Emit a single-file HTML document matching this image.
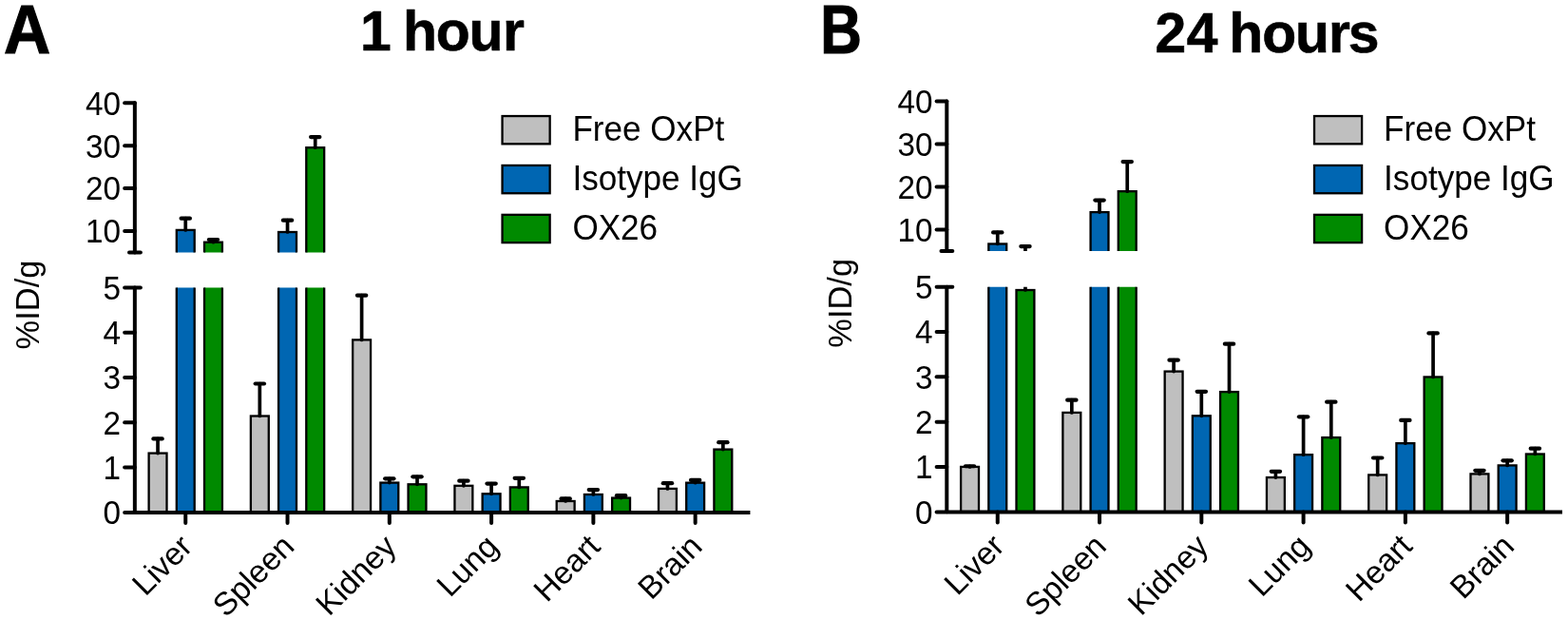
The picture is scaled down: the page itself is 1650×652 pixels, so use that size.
<!DOCTYPE html>
<html><head><meta charset="utf-8"><title>Biodistribution %ID/g</title>
<style>
html,body{margin:0;padding:0;background:#fff;width:1650px;height:652px;overflow:hidden}
svg{display:block}
text{font-family:"Liberation Sans",Arial,sans-serif;fill:#000}
</style></head><body>
<svg width="1650" height="652" viewBox="0 0 1650 652">
<rect width="1650" height="652" fill="#fff"/>
<defs><clipPath id="cua"><rect x="141.85" y="0" width="800" height="265.50"/></clipPath><clipPath id="cla"><rect x="141.85" y="302.60" width="800" height="236.00"/></clipPath></defs>
<g clip-path="url(#cua)"><rect x="185.80" y="241.91" width="18.9" height="43.59" fill="#0066b2" stroke="#000" stroke-width="2.3"/><line x1="195.25" y1="241.91" x2="195.25" y2="229.68" stroke="#000" stroke-width="3.7" stroke-linecap="round"/><line x1="190.60" y1="229.68" x2="199.90" y2="229.68" stroke="#000" stroke-width="4.2" stroke-linecap="round"/><rect x="215.00" y="254.71" width="18.9" height="30.79" fill="#008a00" stroke="#000" stroke-width="2.3"/><line x1="224.45" y1="254.71" x2="224.45" y2="252.02" stroke="#000" stroke-width="3.7" stroke-linecap="round"/><line x1="219.80" y1="252.02" x2="229.10" y2="252.02" stroke="#000" stroke-width="4.2" stroke-linecap="round"/><rect x="293.08" y="244.02" width="18.9" height="41.48" fill="#0066b2" stroke="#000" stroke-width="2.3"/><line x1="302.53" y1="244.02" x2="302.53" y2="231.70" stroke="#000" stroke-width="3.7" stroke-linecap="round"/><line x1="297.88" y1="231.70" x2="307.18" y2="231.70" stroke="#000" stroke-width="4.2" stroke-linecap="round"/><rect x="322.28" y="155.21" width="18.9" height="130.29" fill="#008a00" stroke="#000" stroke-width="2.3"/><line x1="331.73" y1="155.21" x2="331.73" y2="144.11" stroke="#000" stroke-width="3.7" stroke-linecap="round"/><line x1="327.08" y1="144.11" x2="336.38" y2="144.11" stroke="#000" stroke-width="4.2" stroke-linecap="round"/></g>
<g clip-path="url(#cla)"><rect x="156.60" y="476.58" width="18.9" height="62.02" fill="#bfbfbf" stroke="#000" stroke-width="2.3"/><line x1="166.05" y1="476.58" x2="166.05" y2="461.38" stroke="#000" stroke-width="3.7" stroke-linecap="round"/><line x1="161.40" y1="461.38" x2="170.70" y2="461.38" stroke="#000" stroke-width="4.2" stroke-linecap="round"/><rect x="185.80" y="54.80" width="18.9" height="483.80" fill="#0066b2" stroke="#000" stroke-width="2.3"/><line x1="195.25" y1="54.80" x2="195.25" y2="-73.58" stroke="#000" stroke-width="3.7" stroke-linecap="round"/><line x1="190.60" y1="-73.58" x2="199.90" y2="-73.58" stroke="#000" stroke-width="4.2" stroke-linecap="round"/><rect x="215.00" y="189.32" width="18.9" height="349.28" fill="#008a00" stroke="#000" stroke-width="2.3"/><line x1="224.45" y1="189.32" x2="224.45" y2="161.00" stroke="#000" stroke-width="3.7" stroke-linecap="round"/><line x1="219.80" y1="161.00" x2="229.10" y2="161.00" stroke="#000" stroke-width="4.2" stroke-linecap="round"/><rect x="263.88" y="437.50" width="18.9" height="101.10" fill="#bfbfbf" stroke="#000" stroke-width="2.3"/><line x1="273.33" y1="437.50" x2="273.33" y2="403.51" stroke="#000" stroke-width="3.7" stroke-linecap="round"/><line x1="268.68" y1="403.51" x2="277.98" y2="403.51" stroke="#000" stroke-width="4.2" stroke-linecap="round"/><rect x="293.08" y="76.98" width="18.9" height="461.62" fill="#0066b2" stroke="#000" stroke-width="2.3"/><line x1="302.53" y1="76.98" x2="302.53" y2="-52.34" stroke="#000" stroke-width="3.7" stroke-linecap="round"/><line x1="297.88" y1="-52.34" x2="307.18" y2="-52.34" stroke="#000" stroke-width="4.2" stroke-linecap="round"/><rect x="322.28" y="-855.69" width="18.9" height="1394.29" fill="#008a00" stroke="#000" stroke-width="2.3"/><line x1="331.73" y1="-855.69" x2="331.73" y2="-972.27" stroke="#000" stroke-width="3.7" stroke-linecap="round"/><line x1="327.08" y1="-972.27" x2="336.38" y2="-972.27" stroke="#000" stroke-width="4.2" stroke-linecap="round"/><rect x="371.16" y="357.40" width="18.9" height="181.20" fill="#bfbfbf" stroke="#000" stroke-width="2.3"/><line x1="380.61" y1="357.40" x2="380.61" y2="310.72" stroke="#000" stroke-width="3.7" stroke-linecap="round"/><line x1="375.96" y1="310.72" x2="385.26" y2="310.72" stroke="#000" stroke-width="4.2" stroke-linecap="round"/><rect x="400.36" y="507.59" width="18.9" height="31.01" fill="#0066b2" stroke="#000" stroke-width="2.3"/><line x1="409.81" y1="507.59" x2="409.81" y2="503.29" stroke="#000" stroke-width="3.7" stroke-linecap="round"/><line x1="405.16" y1="503.29" x2="414.46" y2="503.29" stroke="#000" stroke-width="4.2" stroke-linecap="round"/><rect x="429.56" y="509.29" width="18.9" height="29.31" fill="#008a00" stroke="#000" stroke-width="2.3"/><line x1="439.01" y1="509.29" x2="439.01" y2="501.31" stroke="#000" stroke-width="3.7" stroke-linecap="round"/><line x1="434.36" y1="501.31" x2="443.66" y2="501.31" stroke="#000" stroke-width="4.2" stroke-linecap="round"/><rect x="478.44" y="510.80" width="18.9" height="27.80" fill="#bfbfbf" stroke="#000" stroke-width="2.3"/><line x1="487.89" y1="510.80" x2="487.89" y2="505.70" stroke="#000" stroke-width="3.7" stroke-linecap="round"/><line x1="483.24" y1="505.70" x2="492.54" y2="505.70" stroke="#000" stroke-width="4.2" stroke-linecap="round"/><rect x="507.64" y="519.30" width="18.9" height="19.30" fill="#0066b2" stroke="#000" stroke-width="2.3"/><line x1="517.09" y1="519.30" x2="517.09" y2="508.58" stroke="#000" stroke-width="3.7" stroke-linecap="round"/><line x1="512.44" y1="508.58" x2="521.74" y2="508.58" stroke="#000" stroke-width="4.2" stroke-linecap="round"/><rect x="536.84" y="512.40" width="18.9" height="26.20" fill="#008a00" stroke="#000" stroke-width="2.3"/><line x1="546.29" y1="512.40" x2="546.29" y2="502.82" stroke="#000" stroke-width="3.7" stroke-linecap="round"/><line x1="541.64" y1="502.82" x2="550.94" y2="502.82" stroke="#000" stroke-width="4.2" stroke-linecap="round"/><rect x="585.72" y="526.99" width="18.9" height="11.61" fill="#bfbfbf" stroke="#000" stroke-width="2.3"/><line x1="595.17" y1="526.99" x2="595.17" y2="524.44" stroke="#000" stroke-width="3.7" stroke-linecap="round"/><line x1="590.52" y1="524.44" x2="599.82" y2="524.44" stroke="#000" stroke-width="4.2" stroke-linecap="round"/><rect x="614.92" y="520.00" width="18.9" height="18.60" fill="#0066b2" stroke="#000" stroke-width="2.3"/><line x1="624.37" y1="520.00" x2="624.37" y2="515.09" stroke="#000" stroke-width="3.7" stroke-linecap="round"/><line x1="619.72" y1="515.09" x2="629.02" y2="515.09" stroke="#000" stroke-width="4.2" stroke-linecap="round"/><rect x="644.12" y="523.59" width="18.9" height="15.01" fill="#008a00" stroke="#000" stroke-width="2.3"/><line x1="653.57" y1="523.59" x2="653.57" y2="521.18" stroke="#000" stroke-width="3.7" stroke-linecap="round"/><line x1="648.92" y1="521.18" x2="658.22" y2="521.18" stroke="#000" stroke-width="4.2" stroke-linecap="round"/><rect x="693.00" y="513.91" width="18.9" height="24.69" fill="#bfbfbf" stroke="#000" stroke-width="2.3"/><line x1="702.45" y1="513.91" x2="702.45" y2="508.20" stroke="#000" stroke-width="3.7" stroke-linecap="round"/><line x1="697.80" y1="508.20" x2="707.10" y2="508.20" stroke="#000" stroke-width="4.2" stroke-linecap="round"/><rect x="722.20" y="507.68" width="18.9" height="30.92" fill="#0066b2" stroke="#000" stroke-width="2.3"/><line x1="731.65" y1="507.68" x2="731.65" y2="504.90" stroke="#000" stroke-width="3.7" stroke-linecap="round"/><line x1="727.00" y1="504.90" x2="736.30" y2="504.90" stroke="#000" stroke-width="4.2" stroke-linecap="round"/><rect x="751.40" y="472.61" width="18.9" height="65.99" fill="#008a00" stroke="#000" stroke-width="2.3"/><line x1="760.85" y1="472.61" x2="760.85" y2="465.20" stroke="#000" stroke-width="3.7" stroke-linecap="round"/><line x1="756.20" y1="465.20" x2="765.50" y2="465.20" stroke="#000" stroke-width="4.2" stroke-linecap="round"/></g>
<line x1="141.85" y1="108.20" x2="141.85" y2="265.50" stroke="#000" stroke-width="4.0" stroke-linecap="round" fill="none"/>
<line x1="131.15" y1="243.03" x2="141.85" y2="243.03" stroke="#000" stroke-width="4.0" stroke-linecap="round" fill="none"/>
<line x1="131.15" y1="198.09" x2="141.85" y2="198.09" stroke="#000" stroke-width="4.0" stroke-linecap="round" fill="none"/>
<line x1="131.15" y1="153.14" x2="141.85" y2="153.14" stroke="#000" stroke-width="4.0" stroke-linecap="round" fill="none"/>
<line x1="131.15" y1="108.20" x2="141.85" y2="108.20" stroke="#000" stroke-width="4.0" stroke-linecap="round" fill="none"/>
<line x1="136.00" y1="265.50" x2="147.85" y2="265.50" stroke="#000" stroke-width="4.0" stroke-linecap="round" fill="none"/>
<line x1="141.85" y1="302.60" x2="141.85" y2="538.60" stroke="#000" stroke-width="4.0" stroke-linecap="round" fill="none"/>
<line x1="131.15" y1="491.40" x2="141.85" y2="491.40" stroke="#000" stroke-width="4.0" stroke-linecap="round" fill="none"/>
<line x1="131.15" y1="444.20" x2="141.85" y2="444.20" stroke="#000" stroke-width="4.0" stroke-linecap="round" fill="none"/>
<line x1="131.15" y1="397.00" x2="141.85" y2="397.00" stroke="#000" stroke-width="4.0" stroke-linecap="round" fill="none"/>
<line x1="131.15" y1="349.80" x2="141.85" y2="349.80" stroke="#000" stroke-width="4.0" stroke-linecap="round" fill="none"/>
<line x1="131.15" y1="302.60" x2="147.85" y2="302.60" stroke="#000" stroke-width="4.0" stroke-linecap="round" fill="none"/>
<path d="M131.15,536.90H789.40V540.90H131.15A2.0,2.0 0 0 1 131.15,536.90Z" fill="#000"/>
<line x1="195.25" y1="538.90" x2="195.25" y2="549.90" stroke="#000" stroke-width="4.0" stroke-linecap="round" fill="none"/>
<line x1="302.53" y1="538.90" x2="302.53" y2="549.90" stroke="#000" stroke-width="4.0" stroke-linecap="round" fill="none"/>
<line x1="409.81" y1="538.90" x2="409.81" y2="549.90" stroke="#000" stroke-width="4.0" stroke-linecap="round" fill="none"/>
<line x1="517.09" y1="538.90" x2="517.09" y2="549.90" stroke="#000" stroke-width="4.0" stroke-linecap="round" fill="none"/>
<line x1="624.37" y1="538.90" x2="624.37" y2="549.90" stroke="#000" stroke-width="4.0" stroke-linecap="round" fill="none"/>
<line x1="731.65" y1="538.90" x2="731.65" y2="549.90" stroke="#000" stroke-width="4.0" stroke-linecap="round" fill="none"/>
<text transform="translate(127.05 255.43) scale(1 1.03)" text-anchor="end" font-size="33.3">10</text>
<text transform="translate(127.05 210.49) scale(1 1.03)" text-anchor="end" font-size="33.3">20</text>
<text transform="translate(127.05 165.54) scale(1 1.03)" text-anchor="end" font-size="33.3">30</text>
<text transform="translate(127.05 120.60) scale(1 1.03)" text-anchor="end" font-size="33.3">40</text>
<text transform="translate(127.05 551.30) scale(1 1.03)" text-anchor="end" font-size="33.3">0</text>
<text transform="translate(127.05 503.80) scale(1 1.03)" text-anchor="end" font-size="33.3">1</text>
<text transform="translate(127.05 456.60) scale(1 1.03)" text-anchor="end" font-size="33.3">2</text>
<text transform="translate(127.05 409.40) scale(1 1.03)" text-anchor="end" font-size="33.3">3</text>
<text transform="translate(127.05 362.20) scale(1 1.03)" text-anchor="end" font-size="33.3">4</text>
<text transform="translate(127.05 315.00) scale(1 1.03)" text-anchor="end" font-size="33.3">5</text>
<text x="204.25" y="576.60" text-anchor="end" font-size="33.5" transform="rotate(-45 204.25 576.60)">Liver</text>
<text x="311.53" y="576.60" text-anchor="end" font-size="33.5" transform="rotate(-45 311.53 576.60)">Spleen</text>
<text x="418.81" y="576.60" text-anchor="end" font-size="33.5" transform="rotate(-45 418.81 576.60)">Kidney</text>
<text x="526.09" y="576.60" text-anchor="end" font-size="33.5" transform="rotate(-45 526.09 576.60)">Lung</text>
<text x="633.37" y="576.60" text-anchor="end" font-size="33.5" transform="rotate(-45 633.37 576.60)">Heart</text>
<text x="740.65" y="576.60" text-anchor="end" font-size="33.5" transform="rotate(-45 740.65 576.60)">Brain</text>
<text transform="translate(41.4 320.5) rotate(-90) scale(0.97 1)" text-anchor="middle" font-size="35.5">%ID/g</text>
<rect x="528.55" y="122.05" width="50.1" height="29.3" fill="#bfbfbf" stroke="#000" stroke-width="2.3"/>
<text transform="translate(602.40 147.90) scale(0.975 1)" font-size="36">Free OxPt</text>
<rect x="528.55" y="173.95" width="50.1" height="29.3" fill="#0066b2" stroke="#000" stroke-width="2.3"/>
<text transform="translate(602.40 199.80) scale(0.975 1)" font-size="36">Isotype IgG</text>
<rect x="528.55" y="225.85" width="50.1" height="29.3" fill="#008a00" stroke="#000" stroke-width="2.3"/>
<text transform="translate(602.40 251.70) scale(0.975 1)" font-size="36">OX26</text>
<text transform="translate(3.90 55.80) scale(0.935 1)" font-size="72.8" font-weight="bold" stroke="#000" stroke-width="1.2" stroke-linejoin="miter">A</text>
<text x="379 410 424.1 458.85 493.6 528.95" y="52.70" font-size="58.9" font-weight="bold" stroke="#000" stroke-width="0.6">1 hour</text>
<defs><clipPath id="cub"><rect x="996.3" y="0" width="800" height="264.00"/></clipPath><clipPath id="clb"><rect x="996.3" y="301.80" width="800" height="236.40"/></clipPath></defs>
<g clip-path="url(#cub)"><rect x="1040.30" y="256.48" width="18.9" height="27.52" fill="#0066b2" stroke="#000" stroke-width="2.3"/><line x1="1049.75" y1="256.48" x2="1049.75" y2="244.41" stroke="#000" stroke-width="3.7" stroke-linecap="round"/><line x1="1045.10" y1="244.41" x2="1054.40" y2="244.41" stroke="#000" stroke-width="4.2" stroke-linecap="round"/><line x1="1078.95" y1="264.31" x2="1078.95" y2="259.09" stroke="#000" stroke-width="3.7" stroke-linecap="round"/><line x1="1074.30" y1="259.09" x2="1083.60" y2="259.09" stroke="#000" stroke-width="4.2" stroke-linecap="round"/><rect x="1147.58" y="223.11" width="18.9" height="60.89" fill="#0066b2" stroke="#000" stroke-width="2.3"/><line x1="1157.03" y1="223.11" x2="1157.03" y2="210.60" stroke="#000" stroke-width="3.7" stroke-linecap="round"/><line x1="1152.38" y1="210.60" x2="1161.68" y2="210.60" stroke="#000" stroke-width="4.2" stroke-linecap="round"/><rect x="1176.78" y="201.19" width="18.9" height="82.81" fill="#008a00" stroke="#000" stroke-width="2.3"/><line x1="1186.23" y1="201.19" x2="1186.23" y2="170.12" stroke="#000" stroke-width="3.7" stroke-linecap="round"/><line x1="1181.58" y1="170.12" x2="1190.88" y2="170.12" stroke="#000" stroke-width="4.2" stroke-linecap="round"/></g>
<g clip-path="url(#clb)"><rect x="1011.10" y="490.92" width="18.9" height="47.28" fill="#bfbfbf" stroke="#000" stroke-width="2.3"/><line x1="1020.55" y1="490.92" x2="1020.55" y2="490.26" stroke="#000" stroke-width="3.7" stroke-linecap="round"/><line x1="1015.90" y1="490.26" x2="1025.20" y2="490.26" stroke="#000" stroke-width="4.2" stroke-linecap="round"/><rect x="1040.30" y="222.84" width="18.9" height="315.36" fill="#0066b2" stroke="#000" stroke-width="2.3"/><line x1="1049.75" y1="222.84" x2="1049.75" y2="96.13" stroke="#000" stroke-width="3.7" stroke-linecap="round"/><line x1="1045.10" y1="96.13" x2="1054.40" y2="96.13" stroke="#000" stroke-width="4.2" stroke-linecap="round"/><rect x="1069.50" y="305.02" width="18.9" height="233.18" fill="#008a00" stroke="#000" stroke-width="2.3"/><line x1="1078.95" y1="305.02" x2="1078.95" y2="250.26" stroke="#000" stroke-width="3.7" stroke-linecap="round"/><line x1="1074.30" y1="250.26" x2="1083.60" y2="250.26" stroke="#000" stroke-width="4.2" stroke-linecap="round"/><rect x="1118.38" y="433.90" width="18.9" height="104.30" fill="#bfbfbf" stroke="#000" stroke-width="2.3"/><line x1="1127.83" y1="433.90" x2="1127.83" y2="420.71" stroke="#000" stroke-width="3.7" stroke-linecap="round"/><line x1="1123.18" y1="420.71" x2="1132.48" y2="420.71" stroke="#000" stroke-width="4.2" stroke-linecap="round"/><rect x="1147.58" y="-127.50" width="18.9" height="665.70" fill="#0066b2" stroke="#000" stroke-width="2.3"/><line x1="1157.03" y1="-127.50" x2="1157.03" y2="-258.94" stroke="#000" stroke-width="3.7" stroke-linecap="round"/><line x1="1152.38" y1="-258.94" x2="1161.68" y2="-258.94" stroke="#000" stroke-width="4.2" stroke-linecap="round"/><rect x="1176.78" y="-357.76" width="18.9" height="895.96" fill="#008a00" stroke="#000" stroke-width="2.3"/><line x1="1186.23" y1="-357.76" x2="1186.23" y2="-683.99" stroke="#000" stroke-width="3.7" stroke-linecap="round"/><line x1="1181.58" y1="-683.99" x2="1190.88" y2="-683.99" stroke="#000" stroke-width="4.2" stroke-linecap="round"/><rect x="1225.66" y="390.59" width="18.9" height="147.61" fill="#bfbfbf" stroke="#000" stroke-width="2.3"/><line x1="1235.11" y1="390.59" x2="1235.11" y2="378.68" stroke="#000" stroke-width="3.7" stroke-linecap="round"/><line x1="1230.46" y1="378.68" x2="1239.76" y2="378.68" stroke="#000" stroke-width="4.2" stroke-linecap="round"/><rect x="1254.86" y="437.30" width="18.9" height="100.90" fill="#0066b2" stroke="#000" stroke-width="2.3"/><line x1="1264.31" y1="437.30" x2="1264.31" y2="411.82" stroke="#000" stroke-width="3.7" stroke-linecap="round"/><line x1="1259.66" y1="411.82" x2="1268.96" y2="411.82" stroke="#000" stroke-width="4.2" stroke-linecap="round"/><rect x="1284.06" y="412.10" width="18.9" height="126.10" fill="#008a00" stroke="#000" stroke-width="2.3"/><line x1="1293.51" y1="412.10" x2="1293.51" y2="361.70" stroke="#000" stroke-width="3.7" stroke-linecap="round"/><line x1="1288.86" y1="361.70" x2="1298.16" y2="361.70" stroke="#000" stroke-width="4.2" stroke-linecap="round"/><rect x="1332.94" y="502.08" width="18.9" height="36.12" fill="#bfbfbf" stroke="#000" stroke-width="2.3"/><line x1="1342.39" y1="502.08" x2="1342.39" y2="495.79" stroke="#000" stroke-width="3.7" stroke-linecap="round"/><line x1="1337.74" y1="495.79" x2="1347.04" y2="495.79" stroke="#000" stroke-width="4.2" stroke-linecap="round"/><rect x="1362.14" y="478.20" width="18.9" height="60.00" fill="#0066b2" stroke="#000" stroke-width="2.3"/><line x1="1371.59" y1="478.20" x2="1371.59" y2="438.30" stroke="#000" stroke-width="3.7" stroke-linecap="round"/><line x1="1366.94" y1="438.30" x2="1376.24" y2="438.30" stroke="#000" stroke-width="4.2" stroke-linecap="round"/><rect x="1391.34" y="460.09" width="18.9" height="78.11" fill="#008a00" stroke="#000" stroke-width="2.3"/><line x1="1400.79" y1="460.09" x2="1400.79" y2="422.69" stroke="#000" stroke-width="3.7" stroke-linecap="round"/><line x1="1396.14" y1="422.69" x2="1405.44" y2="422.69" stroke="#000" stroke-width="4.2" stroke-linecap="round"/><rect x="1440.22" y="499.43" width="18.9" height="38.77" fill="#bfbfbf" stroke="#000" stroke-width="2.3"/><line x1="1449.67" y1="499.43" x2="1449.67" y2="481.51" stroke="#000" stroke-width="3.7" stroke-linecap="round"/><line x1="1445.02" y1="481.51" x2="1454.32" y2="481.51" stroke="#000" stroke-width="4.2" stroke-linecap="round"/><rect x="1469.42" y="466.15" width="18.9" height="72.05" fill="#0066b2" stroke="#000" stroke-width="2.3"/><line x1="1478.87" y1="466.15" x2="1478.87" y2="441.89" stroke="#000" stroke-width="3.7" stroke-linecap="round"/><line x1="1474.22" y1="441.89" x2="1483.52" y2="441.89" stroke="#000" stroke-width="4.2" stroke-linecap="round"/><rect x="1498.62" y="396.45" width="18.9" height="141.75" fill="#008a00" stroke="#000" stroke-width="2.3"/><line x1="1508.07" y1="396.45" x2="1508.07" y2="350.40" stroke="#000" stroke-width="3.7" stroke-linecap="round"/><line x1="1503.42" y1="350.40" x2="1512.72" y2="350.40" stroke="#000" stroke-width="4.2" stroke-linecap="round"/><rect x="1547.50" y="498.39" width="18.9" height="39.81" fill="#bfbfbf" stroke="#000" stroke-width="2.3"/><line x1="1556.95" y1="498.39" x2="1556.95" y2="494.80" stroke="#000" stroke-width="3.7" stroke-linecap="round"/><line x1="1552.30" y1="494.80" x2="1561.60" y2="494.80" stroke="#000" stroke-width="4.2" stroke-linecap="round"/><rect x="1576.70" y="489.41" width="18.9" height="48.79" fill="#0066b2" stroke="#000" stroke-width="2.3"/><line x1="1586.15" y1="489.41" x2="1586.15" y2="484.30" stroke="#000" stroke-width="3.7" stroke-linecap="round"/><line x1="1581.50" y1="484.30" x2="1590.80" y2="484.30" stroke="#000" stroke-width="4.2" stroke-linecap="round"/><rect x="1605.90" y="477.49" width="18.9" height="60.71" fill="#008a00" stroke="#000" stroke-width="2.3"/><line x1="1615.35" y1="477.49" x2="1615.35" y2="471.72" stroke="#000" stroke-width="3.7" stroke-linecap="round"/><line x1="1610.70" y1="471.72" x2="1620.00" y2="471.72" stroke="#000" stroke-width="4.2" stroke-linecap="round"/></g>
<line x1="996.3" y1="106.40" x2="996.3" y2="264.00" stroke="#000" stroke-width="4.0" stroke-linecap="round" fill="none"/>
<line x1="985.60" y1="241.49" x2="996.3" y2="241.49" stroke="#000" stroke-width="4.0" stroke-linecap="round" fill="none"/>
<line x1="985.60" y1="196.46" x2="996.3" y2="196.46" stroke="#000" stroke-width="4.0" stroke-linecap="round" fill="none"/>
<line x1="985.60" y1="151.43" x2="996.3" y2="151.43" stroke="#000" stroke-width="4.0" stroke-linecap="round" fill="none"/>
<line x1="985.60" y1="106.40" x2="996.3" y2="106.40" stroke="#000" stroke-width="4.0" stroke-linecap="round" fill="none"/>
<line x1="990.45" y1="264.00" x2="1002.30" y2="264.00" stroke="#000" stroke-width="4.0" stroke-linecap="round" fill="none"/>
<line x1="996.3" y1="301.80" x2="996.3" y2="538.20" stroke="#000" stroke-width="4.0" stroke-linecap="round" fill="none"/>
<line x1="985.60" y1="490.92" x2="996.3" y2="490.92" stroke="#000" stroke-width="4.0" stroke-linecap="round" fill="none"/>
<line x1="985.60" y1="443.64" x2="996.3" y2="443.64" stroke="#000" stroke-width="4.0" stroke-linecap="round" fill="none"/>
<line x1="985.60" y1="396.36" x2="996.3" y2="396.36" stroke="#000" stroke-width="4.0" stroke-linecap="round" fill="none"/>
<line x1="985.60" y1="349.08" x2="996.3" y2="349.08" stroke="#000" stroke-width="4.0" stroke-linecap="round" fill="none"/>
<line x1="985.60" y1="301.80" x2="1002.30" y2="301.80" stroke="#000" stroke-width="4.0" stroke-linecap="round" fill="none"/>
<path d="M985.60,536.40H1644.00V540.40H985.60A2.0,2.0 0 0 1 985.60,536.40Z" fill="#000"/>
<line x1="1049.75" y1="538.40" x2="1049.75" y2="549.40" stroke="#000" stroke-width="4.0" stroke-linecap="round" fill="none"/>
<line x1="1157.03" y1="538.40" x2="1157.03" y2="549.40" stroke="#000" stroke-width="4.0" stroke-linecap="round" fill="none"/>
<line x1="1264.31" y1="538.40" x2="1264.31" y2="549.40" stroke="#000" stroke-width="4.0" stroke-linecap="round" fill="none"/>
<line x1="1371.59" y1="538.40" x2="1371.59" y2="549.40" stroke="#000" stroke-width="4.0" stroke-linecap="round" fill="none"/>
<line x1="1478.87" y1="538.40" x2="1478.87" y2="549.40" stroke="#000" stroke-width="4.0" stroke-linecap="round" fill="none"/>
<line x1="1586.15" y1="538.40" x2="1586.15" y2="549.40" stroke="#000" stroke-width="4.0" stroke-linecap="round" fill="none"/>
<text transform="translate(981.50 253.89) scale(1 1.03)" text-anchor="end" font-size="33.3">10</text>
<text transform="translate(981.50 208.86) scale(1 1.03)" text-anchor="end" font-size="33.3">20</text>
<text transform="translate(981.50 163.83) scale(1 1.03)" text-anchor="end" font-size="33.3">30</text>
<text transform="translate(981.50 118.80) scale(1 1.03)" text-anchor="end" font-size="33.3">40</text>
<text transform="translate(981.50 550.80) scale(1 1.03)" text-anchor="end" font-size="33.3">0</text>
<text transform="translate(981.50 503.32) scale(1 1.03)" text-anchor="end" font-size="33.3">1</text>
<text transform="translate(981.50 456.04) scale(1 1.03)" text-anchor="end" font-size="33.3">2</text>
<text transform="translate(981.50 408.76) scale(1 1.03)" text-anchor="end" font-size="33.3">3</text>
<text transform="translate(981.50 361.48) scale(1 1.03)" text-anchor="end" font-size="33.3">4</text>
<text transform="translate(981.50 314.20) scale(1 1.03)" text-anchor="end" font-size="33.3">5</text>
<text x="1058.75" y="576.20" text-anchor="end" font-size="33.5" transform="rotate(-45 1058.75 576.20)">Liver</text>
<text x="1166.03" y="576.20" text-anchor="end" font-size="33.5" transform="rotate(-45 1166.03 576.20)">Spleen</text>
<text x="1273.31" y="576.20" text-anchor="end" font-size="33.5" transform="rotate(-45 1273.31 576.20)">Kidney</text>
<text x="1380.59" y="576.20" text-anchor="end" font-size="33.5" transform="rotate(-45 1380.59 576.20)">Lung</text>
<text x="1487.87" y="576.20" text-anchor="end" font-size="33.5" transform="rotate(-45 1487.87 576.20)">Heart</text>
<text x="1595.15" y="576.20" text-anchor="end" font-size="33.5" transform="rotate(-45 1595.15 576.20)">Brain</text>
<text transform="translate(895.9 318.8) rotate(-90) scale(0.97 1)" text-anchor="middle" font-size="35.5">%ID/g</text>
<rect x="1383.0" y="122.05" width="50.1" height="29.3" fill="#bfbfbf" stroke="#000" stroke-width="2.3"/>
<text transform="translate(1456.10 147.90) scale(0.975 1)" font-size="36">Free OxPt</text>
<rect x="1383.0" y="173.95" width="50.1" height="29.3" fill="#0066b2" stroke="#000" stroke-width="2.3"/>
<text transform="translate(1456.10 199.80) scale(0.975 1)" font-size="36">Isotype IgG</text>
<rect x="1383.0" y="225.85" width="50.1" height="29.3" fill="#008a00" stroke="#000" stroke-width="2.3"/>
<text transform="translate(1456.10 251.70) scale(0.975 1)" font-size="36">OX26</text>
<text transform="translate(863.20 55.90) scale(0.832 1)" font-size="72.6" font-weight="bold" stroke="#000" stroke-width="1.2" stroke-linejoin="miter">B</text>
<text x="1215.4 1248.75 1280 1293.35 1328.15 1363.1 1398.1 1418.85" y="54.80" font-size="58.8" font-weight="bold" stroke="#000" stroke-width="0.6">24 hours</text>
</svg>
</body></html>
